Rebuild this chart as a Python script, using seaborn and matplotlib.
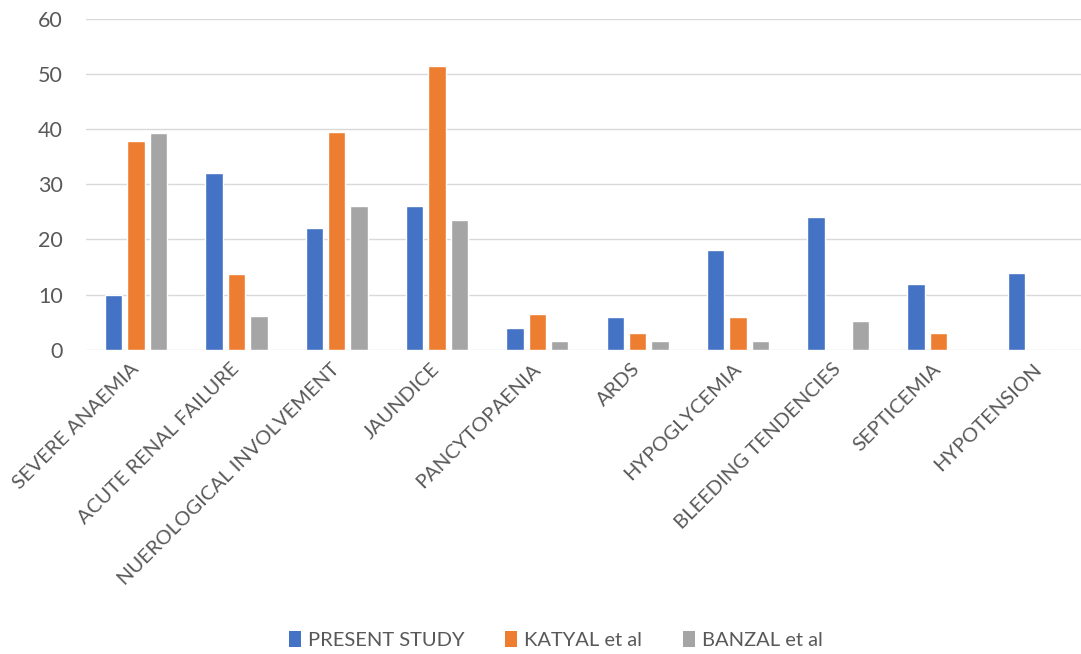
import matplotlib
matplotlib.use("Agg")
import matplotlib.pyplot as plt
import seaborn as sns
import pandas as pd
from matplotlib.patches import Patch

# Complications reported in each study (%)
categories = [
    "SEVERE ANAEMIA", "ACUTE RENAL FAILURE", "NUEROLOGICAL INVOLVEMENT",
    "JAUNDICE", "PANCYTOPAENIA", "ARDS", "HYPOGLYCEMIA",
    "BLEEDING TENDENCIES", "SEPTICEMIA", "HYPOTENSION",
]
series_names = ["PRESENT STUDY", "KATYAL et al", "BANZAL et al"]
present_study = [10, 32, 22, 26, 4, 6, 18, 24, 12, 14]
katyal = [37.8, 13.7, 39.5, 51.5, 6.5, 3.0, 6.0, 0, 3.0, 0]
banzal = [39.4, 6.1, 26.0, 23.5, 1.6, 1.6, 1.6, 5.2, 0, 0]
y_ticks = [0, 10, 20, 30, 40, 50, 60]

colors = ["#4472C4", "#ED7D31", "#A5A5A5"]

rows = []
for name, vals in zip(series_names, [present_study, katyal, banzal]):
    for cat, v in zip(categories, vals):
        rows.append({"category": cat, "study": name, "value": v})
df = pd.DataFrame(rows)

sns.set_theme(style="white")
plt.rcParams["font.family"] = ["Lato", "DejaVu Sans"]

W, H = 1081, 654
fig = plt.figure(figsize=(W / 100, H / 100), dpi=100)
left, right, bottom, top = 86, 1089, 349.7, 19
ax = fig.add_axes([left / W, 1 - bottom / H, (right - left) / W, (bottom - top) / H])

sns.barplot(
    data=df, x="category", y="value", hue="study",
    order=categories, hue_order=series_names, palette=colors,
    width=0.67, gap=0.22, saturation=1, legend=False, ax=ax,
    errorbar=None,
)

ax.set_ylim(0, 60)
ax.set_xlim(-0.5, len(categories) - 0.5)
ax.set_yticks(y_ticks)
ax.set_yticklabels([str(t) for t in y_ticks])
ax.yaxis.grid(True, color="#D9D9D9", linewidth=1.0)
ax.set_axisbelow(True)
for s in ax.spines.values():
    s.set_visible(False)
ax.set_xlabel("")
ax.set_ylabel("")

ax.tick_params(axis="y", length=0, pad=16.5, labelsize=15.5, labelcolor="#595959")
ax.tick_params(axis="x", length=0, pad=12, labelsize=14.5, labelcolor="#595959")
for lbl in ax.get_xticklabels():
    lbl.set_rotation(45)
    lbl.set_ha("right")
    lbl.set_va("center")
    lbl.set_rotation_mode("anchor")

handles = [Patch(facecolor=c, edgecolor="none") for c in colors]
fig.legend(
    handles, series_names, loc="center", bbox_to_anchor=(556 / W, 1 - 640 / H),
    ncol=3, frameon=False, fontsize=14.5, labelcolor="#595959",
    handlelength=0.6, handleheight=0.85, handletextpad=0.35, columnspacing=2.0,
)

fig.savefig("out.png", dpi=100, facecolor="white")
